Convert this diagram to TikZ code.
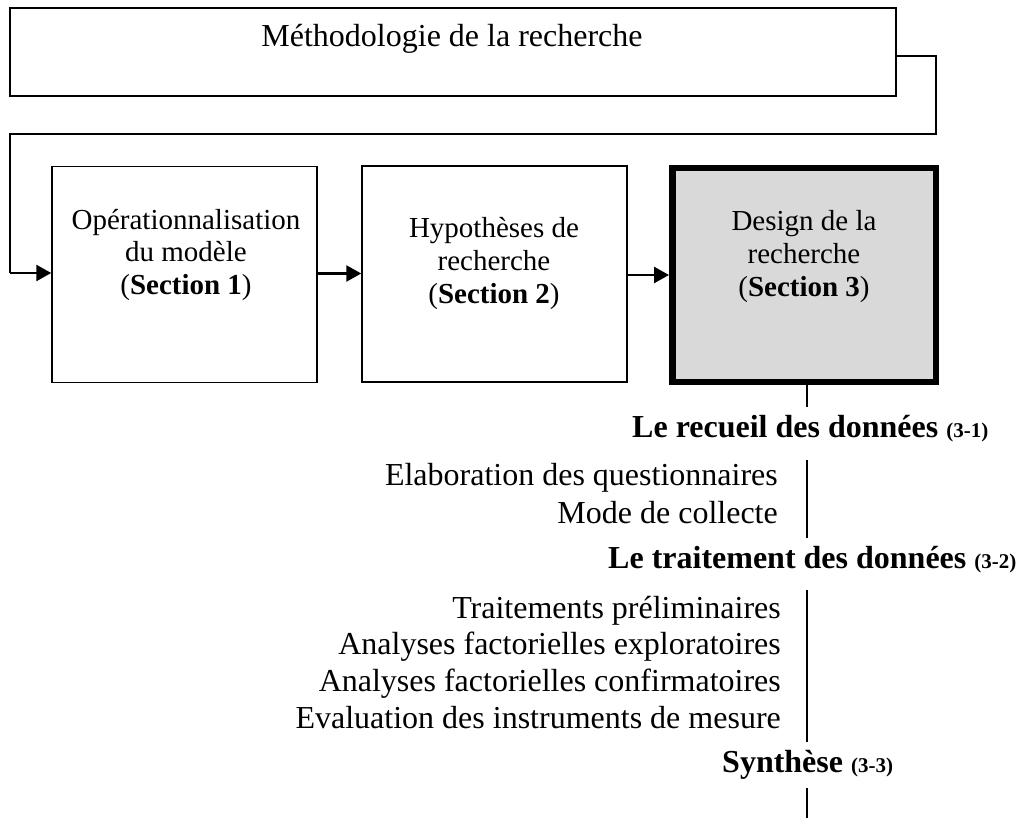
\documentclass[tikz,border=0pt]{standalone}
\usepackage{fontspec}
\setmainfont{Liberation Serif}
\usetikzlibrary{arrows.meta}
\definecolor{boxgray}{RGB}{217,217,217}
\tikzset{
  plainbox/.style={draw, line width=1.5pt, inner sep=0pt, minimum width=265pt, minimum height=216pt},
  boxtext/.style={align=center, inner sep=0pt, font=\fontsize{29}{33}\selectfont},
  itemtext/.style={inner sep=0pt, anchor=base east, font=\fontsize{32}{37}\selectfont},
  headtext/.style={inner sep=0pt, anchor=base west, font=\fontsize{32}{37}\selectfont\bfseries},
  flowarrow/.style={line width=2.6pt, -{Triangle[length=15pt,width=16pt]}},
  thinline/.style={line width=1.5pt},
}
\newcommand{\smallnum}[1]{{\fontsize{21}{24}\selectfont #1}}
\begin{document}
\begin{tikzpicture}[x=1pt,y=-1pt]
\useasboundingbox (0,0) rectangle (1020,818);
% top box
\node[draw, line width=1.5pt, inner sep=0pt, minimum width=886pt, minimum height=88pt] (meth) at (453,52) {};
\node[inner sep=0pt, anchor=base, font=\fontsize{32}{37}\selectfont] (methtxt) at (452,47) {Méthodologie de la recherche};
% three boxes
\node[plainbox] (b1) at (184.5,274.5) {};
\node[plainbox] (b2) at (494.5,274) {};
\node[draw, line width=6.5pt, fill=boxgray, inner sep=0pt, minimum width=263.5pt, minimum height=213.5pt] (b3) at (804,275) {};
\node[boxtext, anchor=base] (t1) at (186,295) {Opérationnalisation\\du modèle\\(\textbf{Section 1})};
\node[boxtext, anchor=base] (t2) at (494,304) {Hypothèses de\\recherche\\(\textbf{Section 2})};
\node[boxtext, anchor=base] (t3) at (804,297) {Design de la\\recherche\\(\textbf{Section 3})};
% connector from top box
\coordinate (c0) at (896,56);
\draw[thinline] (c0) -- (936,56) -- (936,134) -- (10,134) -- (10,273);
\coordinate (c1) at (10,273);
\draw[flowarrow] (c1) -- (c1 -| b1.west);
\coordinate (c2) at (317,273.5);
\draw[flowarrow] (c2) -- (c2 -| b2.west);
\coordinate (c3) at (627,275);
\draw[flowarrow] (c3) -- (c3 -| b3.west);
% vertical lines
\coordinate (v0) at (807,407);
\draw[thinline] (b3.south -| v0) -- (v0);
\coordinate (v1a) at (807,460); \coordinate (v1b) at (807,538);
\draw[thinline] (v1a) -- (v1b);
\coordinate (v2a) at (807,590); \coordinate (v2b) at (807,742);
\draw[thinline] (v2a) -- (v2b);
\coordinate (v3a) at (807,788); \coordinate (v3b) at (807,818);
\draw[thinline] (v3a) -- (v3b);
% headings and items
\node[headtext] (h1) at (632,437) {Le recueil des données \smallnum{(3-1)}};
\node[itemtext] (i1) at (778,485) {Elaboration des questionnaires};
\node[itemtext] (i2) at (778,523) {Mode de collecte};
\node[headtext] (h2) at (608,568) {Le traitement des données \smallnum{(3-2)}};
\node[itemtext] (i3) at (781,618) {Traitements préliminaires};
\node[itemtext] (i4) at (781,654) {Analyses factorielles exploratoires};
\node[itemtext] (i5) at (781,691) {Analyses factorielles confirmatoires};
\node[itemtext] (i6) at (781,728) {Evaluation des instruments de mesure};
\node[headtext] (h3) at (722,772) {Synthèse \smallnum{(3-3)}};
\end{tikzpicture}
\end{document}
